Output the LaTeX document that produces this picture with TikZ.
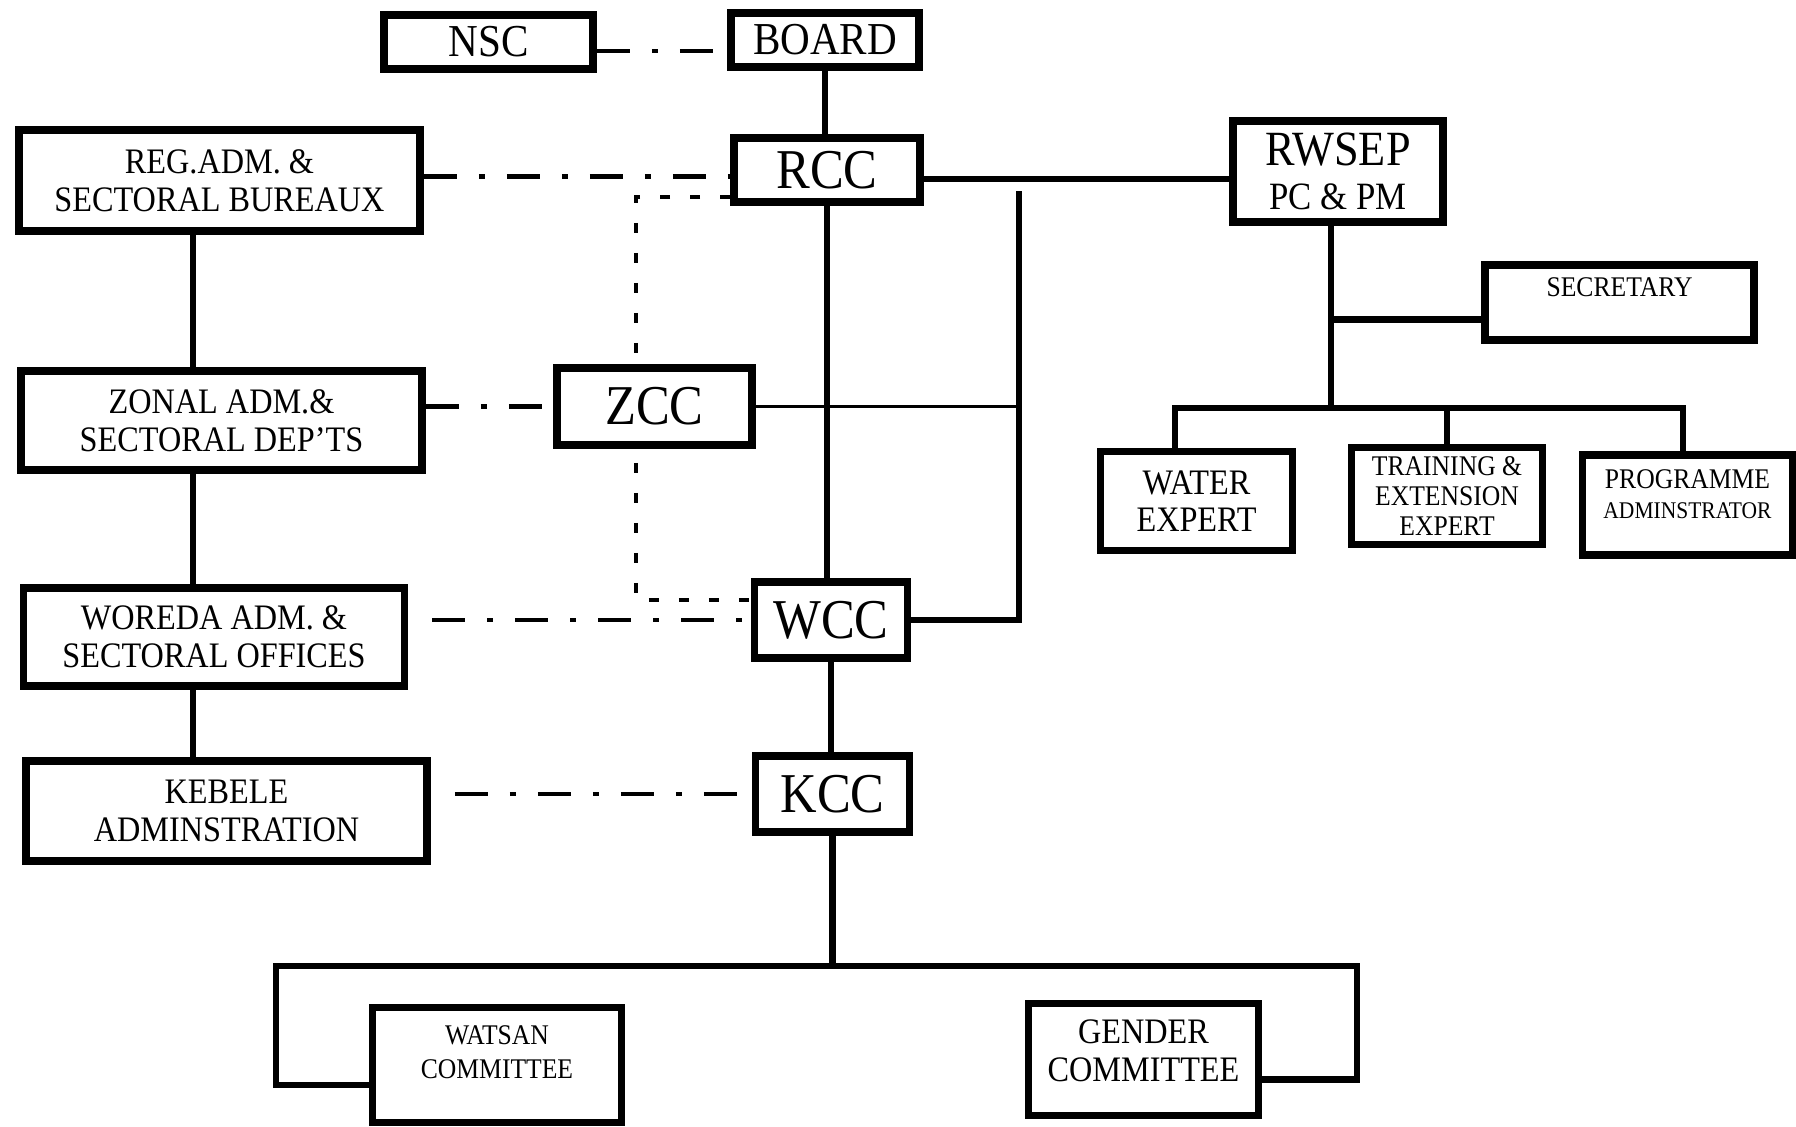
\documentclass[tikz,border=0pt]{standalone}
\usepackage{fontspec}
\setmainfont{Liberation Serif}[FakeStretch=0.9]
\usetikzlibrary{backgrounds}

\begin{document}
\begin{tikzpicture}[
      unit/.style={rectangle, draw, line width=2.2pt, fill=white, align=center, inner sep=1pt},
      head/.style={unit, font=\fontsize{13}{14}\selectfont},
      council/.style={unit, font=\fontsize{16}{17}\selectfont},
      office/.style={unit, font=\fontsize{10.2}{10.7}\selectfont},
      post/.style={unit, font=\fontsize{8.1}{8.6}\selectfont},
      link/.style={line width=1.8pt},
      thin link/.style={line width=1.1pt},
      dashdot/.style={line width=1.3pt, dash pattern=on 0.33cm off 0.22cm on 0.06cm off 0.22cm},
      dotline/.style={line width=1.1pt, dash pattern=on 0.1cm off 0.2cm}
      ]
      \useasboundingbox (0,0) rectangle (17.96,-11.26);

      % Nodes
      \node[head, minimum width=2.09cm, minimum height=0.54cm] (nsc) at (4.885,-0.42) {NSC};
      \node[head, minimum width=1.88cm, minimum height=0.54cm] (board) at (8.25,-0.40) {BOARD};
      \node[council, minimum width=1.86cm, minimum height=0.64cm] (rcc) at (8.27,-1.70) {RCC};
      \node[office, minimum width=4.01cm, minimum height=1.01cm] (reg) at (2.195,-1.805) {REG.ADM. \&\\SECTORAL BUREAUX};
      \node[unit, font=\fontsize{11}{12.7}\selectfont, minimum width=2.10cm, minimum height=1.01cm] (rwsep) at (13.38,-1.715) {{\fontsize{14}{12.7}\selectfont RWSEP}\\PC \& PM};
      \node[post, minimum width=2.69cm, minimum height=0.75cm, text depth=0.3cm] (secretary) at (16.195,-3.025) {SECRETARY};
      \node[office, minimum width=4.01cm, minimum height=0.99cm] (zonal) at (2.215,-4.205) {ZONAL ADM.\&\\SECTORAL DEP'TS};
      \node[council, minimum width=1.95cm, minimum height=0.77cm] (zcc) at (6.545,-4.065) {ZCC};
      \node[office, minimum width=1.92cm, minimum height=0.99cm] (water) at (11.965,-5.01) {WATER\\EXPERT};
      \node[post, minimum width=1.91cm, minimum height=0.97cm] (training) at (14.47,-4.96) {TRAINING \&\\EXTENSION\\EXPERT};
      \node[post, minimum width=2.10cm, minimum height=1.00cm, text depth=0.22cm] (programme) at (16.875,-5.05) {PROGRAMME\\{\fontsize{6.8}{7.4}\selectfont ADMINSTRATOR}};
      \node[office, minimum width=3.81cm, minimum height=0.98cm] (woreda) at (2.14,-6.37) {WOREDA ADM. \&\\SECTORAL OFFICES};
      \node[council, minimum width=1.53cm, minimum height=0.76cm] (wcc) at (8.31,-6.20) {WCC};
      \node[office, minimum width=4.01cm, minimum height=1.00cm] (kebele) at (2.265,-8.11) {KEBELE\\ADMINSTRATION};
      \node[council, minimum width=1.54cm, minimum height=0.76cm] (kcc) at (8.325,-7.94) {KCC};
      \node[post, minimum width=2.49cm, minimum height=1.15cm, text depth=0.26cm] (watsan) at (4.97,-10.65) {WATSAN\\[1pt]COMMITTEE};
      \node[office, minimum width=2.30cm, minimum height=1.12cm, text depth=0.18cm] (gender) at (11.435,-10.595) {GENDER\\COMMITTEE};

      % Turning points
      \coordinate (left line) at (1.93,0);
      \coordinate (dot top) at (6.36,-1.97);
      \coordinate (dot bottom) at (6.36,-6.00);
      \coordinate (rail top) at (10.19,-1.91);
      \coordinate (staff) at (13.31,-4.08);
      \coordinate (staff left) at (11.75,-4.08);
      \coordinate (staff right) at (16.83,-4.08);
      \coordinate (base left) at (2.76,-9.66);
      \coordinate (base right) at (13.57,-9.66);

      % Lines
      \begin{scope}[on background layer]
      \draw[dashdot] ([yshift=-0.09cm]nsc.east) -- ([yshift=-0.09cm]nsc.east -| board.west);
      \draw[link] (board.south) -- (board.south |- rcc.north);
      \draw[dashdot] ([yshift=0.04cm]reg.east) -- ([yshift=0.04cm]reg.east -| rcc.west);
      \draw[dotline] (rcc.west |- dot top) -- (dot top) -- (dot bottom) -- (dot bottom -| wcc.west);
      \draw[link] ([yshift=-0.09cm]rcc.east) -- ([yshift=-0.09cm]rcc.east -| rwsep.west);
      \draw[link] (rcc.south) -- (rcc.south |- wcc.north);
      \draw[link] (rail top) |- (wcc.east);
      \draw[thin link] (zcc.east) -- (zcc.east -| rail top);
      \draw[link] (reg.south -| left line) -- (zonal.north -| left line);
      \draw[link] (zonal.south -| left line) -- (woreda.north -| left line);
      \draw[link] (woreda.south -| left line) -- (kebele.north -| left line);
      \draw[dashdot] (zonal.east |- zcc.west) -- (zcc.west);
      \draw[dashdot, shorten <=0.24cm] (woreda.east |- wcc.west) -- (wcc.west);
      \draw[dashdot, shorten <=0.24cm] (kebele.east |- kcc.west) -- (kcc.west);
      \draw[link] (wcc.south) -- (wcc.south |- kcc.north);
      \draw[link] (kcc.south) -- (kcc.south |- base left);
      \draw[link] ([yshift=-0.2cm]watsan.west) -| (base left) -- (base right) |- ([yshift=-0.2cm]gender.east);
      \draw[link] (rwsep.south -| staff) -- (staff);
      \draw[link] ([yshift=-0.17cm]secretary.west) -- ([yshift=-0.17cm]secretary.west -| staff);
      \draw[link] (water.north -| staff left) -- (staff left) -- (staff right) -- (staff right |- programme.north);
      \draw[link] (training.north) -- (training.north |- staff);
      \end{scope}
    \end{tikzpicture}
\end{document}
